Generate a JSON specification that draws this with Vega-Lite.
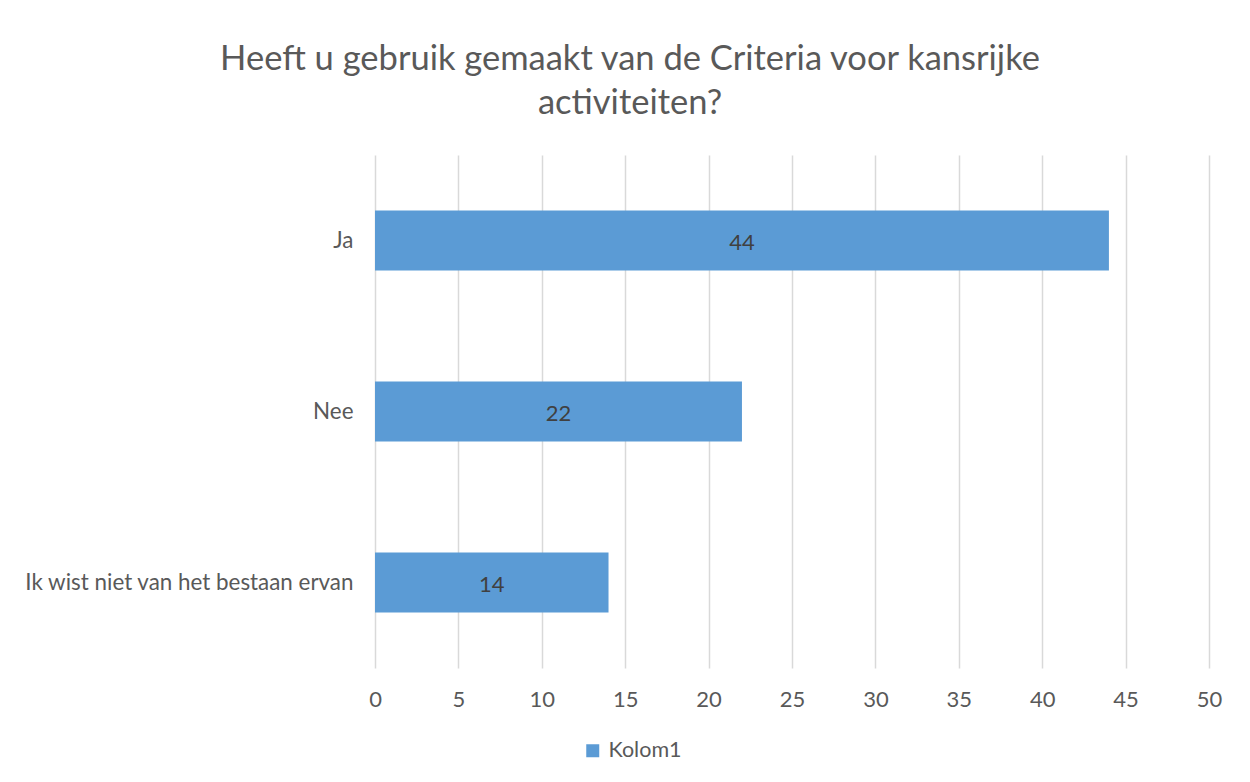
{
  "$schema": "https://vega.github.io/schema/vega-lite/v6.json",
  "width": 834,
  "height": 513,
  "autosize": "none",
  "padding": {"left": 375, "top": 155, "right": 41, "bottom": 114},
  "background": "white",
  "title": {
    "text": ["Heeft u gebruik gemaakt van de Criteria voor kansrijke", "activiteiten?"],
    "font": "Lato",
    "fontSize": 34.5,
    "fontWeight": "normal",
    "color": "#595959",
    "anchor": "middle",
    "frame": "group",
    "dx": -162,
    "offset": 34,
    "lineHeight": 44
  },
  "data": {
    "values": [
      {"categorie": "Ja", "waarde": 44, "reeks": "Kolom1"},
      {"categorie": "Nee", "waarde": 22, "reeks": "Kolom1"},
      {"categorie": "Ik wist niet van het bestaan ervan", "waarde": 14, "reeks": "Kolom1"}
    ]
  },
  "encoding": {
    "y": {
      "field": "categorie",
      "type": "nominal",
      "sort": ["Ja", "Nee", "Ik wist niet van het bestaan ervan"],
      "scale": {"paddingInner": 0.65, "paddingOuter": 0.325},
      "axis": {
        "title": null,
        "ticks": false,
        "domain": false,
        "labelPadding": 22,
        "labelFont": "Lato",
        "labelFontSize": 22.4,
        "labelColor": "#595959",
        "labelLimit": 400
      }
    }
  },
  "layer": [
    {
      "mark": {"type": "bar", "color": "#5B9BD5"},
      "encoding": {
        "x": {
          "field": "waarde",
          "type": "quantitative",
          "scale": {"domain": [0, 50], "nice": false},
          "axis": {
            "title": null,
            "values": [0, 5, 10, 15, 20, 25, 30, 35, 40, 45, 50],
            "ticks": false,
            "domain": false,
            "grid": true,
            "gridColor": "#d9d9d9",
            "gridWidth": 1.5,
            "labelFlush": false,
            "labelPadding": 21,
            "labelFont": "Lato",
            "labelFontSize": 22,
            "labelColor": "#595959"
          }
        },
        "color": {
          "field": "reeks",
          "type": "nominal",
          "scale": {"range": ["#5B9BD5"]},
          "legend": {
            "title": null,
            "orient": "none",
            "legendX": 207,
            "legendY": 585,
            "symbolType": "square",
            "symbolSize": 169,
            "symbolStrokeWidth": 0,
            "labelFont": "Lato",
            "labelFontSize": 21.5,
            "labelColor": "#595959",
            "labelOffset": 5
          }
        }
      }
    },
    {
      "mark": {"type": "text", "font": "Lato", "fontSize": 22, "color": "#404040", "align": "center", "baseline": "middle", "dy": 2},
      "encoding": {
        "x": {
          "field": "waarde",
          "type": "quantitative",
          "scale": {"domain": [0, 100], "nice": false},
          "axis": null
        },
        "text": {"field": "waarde", "type": "quantitative"}
      }
    }
  ],
  "resolve": {"scale": {"x": "independent"}, "axis": {"x": "independent"}},
  "config": {"view": {"stroke": null}}
}
